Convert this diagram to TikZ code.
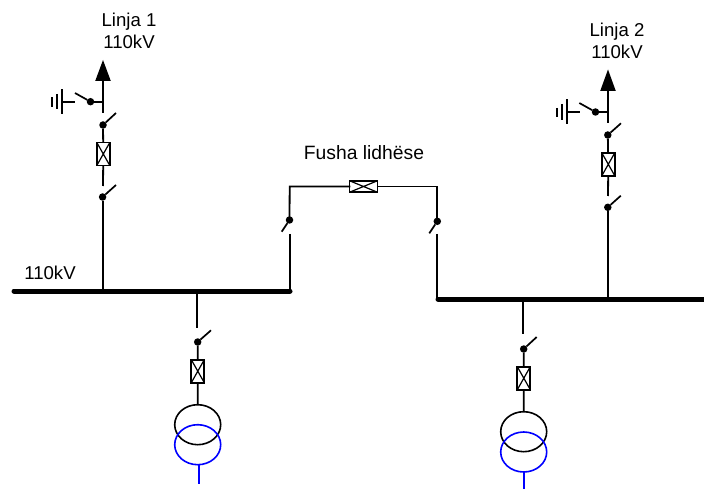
\documentclass[tikz,border=0pt]{standalone}
\usepackage{fontspec}
\setmainfont{Liberation Sans}
\usetikzlibrary{shapes.geometric}
\begin{document}
\begin{tikzpicture}[x=1pt,y=-1pt,
  wire/.style={line width=1.8pt,black,line cap=butt},
  blade/.style={line width=1.7pt,black},
  busbar/.style={line width=5pt,black,line cap=round},
  dotnode/.style={circle,fill=black,inner sep=0pt,outer sep=0pt,minimum size=7.5pt},
  brk/.style={rectangle,draw=black,line width=1.8pt,fill=white,inner sep=0pt,outer sep=0pt},
  brkv/.style={brk,minimum width=13pt,minimum height=23pt},
  brkh/.style={brk,minimum width=28pt,minimum height=11.5pt},
  tf/.style={ellipse,draw=black,line width=1.6pt,inner sep=0pt,outer sep=0pt,minimum width=46pt,minimum height=40pt},
  tfb/.style={tf,draw=blue},
  lbl/.style={font=\fontsize{18.6}{22}\selectfont,align=center,inner sep=0pt},
  lblw/.style={font=\fontsize{19.3}{22}\selectfont,align=center,inner sep=0pt},
  pt/.style={inner sep=0pt,outer sep=0pt,minimum size=0pt}]
\useasboundingbox (0,0) rectangle (704,489);
\newcommand{\Xmark}[1]{\draw[line width=1.2pt] (#1.north west)--(#1.south east) (#1.north east)--(#1.south west);}
% bus bars
\node[pt] (b1a) at (14,291) {};
\node[pt] (b1b) at (290,291) {};
\node[pt] (b2a) at (438,299) {};
\node[pt] (b2b) at (704,299) {};
\draw[busbar] (b1a) -- (b1b);
\draw[busbar] (b2a) -- (b2b);
\node[lbl] (l110) at (50,273) {110kV};
% Line 1
\node[lbl] (t1) at (129,31) {Linja 1\\110kV};
\node[pt] (a1) at (103,60) {};
\fill (a1.center) -- (110.8,81) -- (95.2,81) -- cycle;
\node[dotnode] (e1) at (90.5,101.7) {};
\node[pt] (c1) at (103,113) {};
\draw[wire] (103,80) -- (c1);
\draw[wire] (e1) -- (103.9,101.7);
\node[pt] (eb1) at (75,93) {};
\draw[blade] (e1) -- (eb1);
\node[pt] (es1) at (61.7,101.7) {};
\draw[wire] (es1) -- (75,101.7);
\draw[wire] (61.7,89.5) -- (61.7,114) (56.8,94) -- (56.8,109) (52.3,97.5) -- (52.3,107);
\node[dotnode] (d11) at (103,125) {};
\node[pt] (b11) at (116,113) {};
\draw[blade] (d11) -- (b11);
\node[brkv] (k1) at (103.3,154) {}; \Xmark{k1}
\draw[wire] (d11) -- (k1);
\node[pt] (f1) at (103,186) {};
\draw[wire] (k1) -- (f1);
\node[dotnode] (d12) at (102.6,197) {};
\node[pt] (b12) at (116,185) {};
\draw[blade] (d12) -- (b12);
\draw[wire] (d12) -- (102.6,291);
% Line 2
\node[lbl] (t2) at (617,41) {Linja 2\\110kV};
\node[pt] (a2) at (608,69.5) {};
\fill (a2.center) -- (615.8,91) -- (600.2,91) -- cycle;
\node[dotnode] (e2) at (595.5,112) {};
\node[pt] (c2) at (608,123) {};
\draw[wire] (608,90) -- (c2);
\draw[wire] (e2) -- (608.9,112);
\node[pt] (eb2) at (579.3,103) {};
\draw[blade] (e2) -- (eb2);
\draw[wire] (567,112) -- (580,112);
\draw[wire] (567,99.5) -- (567,124.5) (561.8,104) -- (561.8,120) (556.8,108) -- (556.8,117.5);
\node[dotnode] (d21) at (607.8,135) {};
\node[pt] (b21) at (621,123.3) {};
\draw[blade] (d21) -- (b21);
\node[brkv] (k2) at (608.3,164.3) {}; \Xmark{k2}
\draw[wire] (d21) -- (k2);
\node[pt] (f2) at (608,196) {};
\draw[wire] (k2) -- (f2);
\node[dotnode] (d22) at (607.8,207.3) {};
\node[pt] (b22) at (620.8,195.7) {};
\draw[blade] (d22) -- (b22);
\draw[wire] (d22) -- (607.8,299);
% Coupler
\node[lblw] (t3) at (364,153) {Fusha lidhëse};
\node[brkh] (k3) at (363.5,186.5) {}; \Xmark{k3}
\node[dotnode] (d31) at (289.5,220) {};
\node[dotnode] (d32) at (437.3,221.3) {};
\draw[wire,line cap=rect] (k3.west) -- (289.7,186.5) -- (d31);
\draw[wire,line cap=rect] (k3.east) -- (437.3,186.5) -- (d32);
\node[pt] (b31) at (281.7,231.7) {};
\node[pt] (b32) at (429.3,233.3) {};
\draw[blade] (d31) -- (b31);
\draw[blade] (d32) -- (b32);
\node[pt] (s31) at (289.7,234) {};
\node[pt] (s32) at (437.3,234) {};
\draw[wire] (s31) -- (289.7,291);
\draw[wire] (s32) -- (437.3,299);
% Transformer 1
\node[pt] (g1) at (197,327.5) {};
\draw[wire] (197,291) -- (g1);
\node[dotnode] (d41) at (197.7,342) {};
\node[pt] (b41) at (211,330.3) {};
\draw[blade] (d41) -- (b41);
\node[brkv] (k4) at (197.8,371.2) {}; \Xmark{k4}
\draw[wire] (d41) -- (k4);
\node[tf] (t41) at (197.7,424.7) {};
\draw[wire] (k4) -- (t41);
\node[tfb] (t42) at (197.7,444.7) {};
\node[pt] (o4) at (198.7,484) {};
\draw[line width=1.8pt,blue] (t42.south -| o4) -- (o4);
% Transformer 2
\node[pt] (g2) at (523,334) {};
\draw[wire] (523,299) -- (g2);
\node[dotnode] (d51) at (523.7,349) {};
\node[pt] (b51) at (536.7,337) {};
\draw[blade] (d51) -- (b51);
\node[brkv] (k5) at (523.8,378.2) {}; \Xmark{k5}
\draw[wire] (d51) -- (k5);
\node[tf] (t51) at (523.7,431.7) {};
\draw[wire] (k5) -- (t51);
\node[tfb] (t52) at (523.7,452) {};
\node[pt] (o5) at (524.3,489) {};
\draw[line width=1.8pt,blue] (t52.south -| o5) -- (o5);
\end{tikzpicture}
\end{document}
